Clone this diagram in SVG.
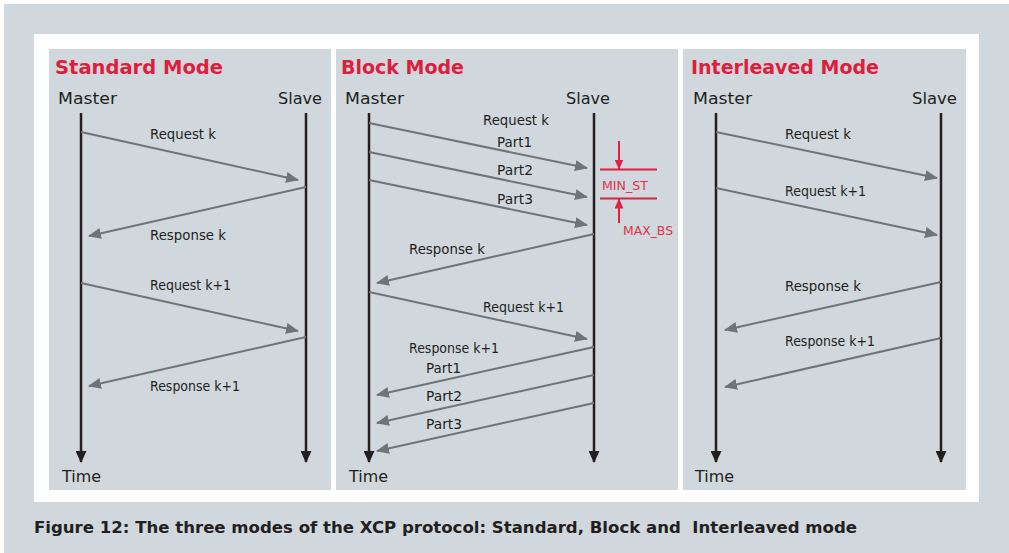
<svg xmlns="http://www.w3.org/2000/svg" width="1009" height="553" viewBox="0 0 1009 553">
<style>
.bg{fill:#d0d7dd}
.panel{fill:#d0d7dd}
.title{font-family:"DejaVu Sans","Noto Sans",sans-serif;font-weight:bold;font-size:19px;fill:#dc1f3c}
.head{font-family:"DejaVu Sans","Noto Sans",sans-serif;font-size:16px;fill:#231f20}
.lbl{font-family:"DejaVu Sans","Noto Sans",sans-serif;font-size:13.5px;fill:#231f20}
.red{font-family:"DejaVu Sans","Noto Sans",sans-serif;font-size:12px;fill:#e0334d}
.cap{font-family:"DejaVu Sans","Noto Sans",sans-serif;font-weight:bold;font-size:15px;fill:#231f20;white-space:pre}
.life{stroke:#231f20;stroke-width:2.5;fill:none}
.msg{stroke:#707476;stroke-width:2;fill:none}
.rl{stroke:#e0213f;stroke-width:2;fill:none}
</style>
<defs>
<marker id="ag" markerUnits="userSpaceOnUse" markerWidth="13" markerHeight="11" refX="12" refY="5.5" orient="auto"><path d="M0,0 L13,5.5 L0,11 Z" fill="#707476"/></marker>
<marker id="ab" markerUnits="userSpaceOnUse" markerWidth="12" markerHeight="11" refX="11" refY="5.5" orient="auto"><path d="M0,0 L12,5.5 L0,11 Z" fill="#231f20"/></marker>
<marker id="ar" markerUnits="userSpaceOnUse" markerWidth="10" markerHeight="9" refX="9.5" refY="4.5" orient="auto"><path d="M0,0 L10,4.5 L0,9 Z" fill="#e0213f"/></marker>
</defs>
<rect x="4" y="4" width="1005" height="549" class="bg"/>
<rect x="34" y="34" width="945" height="468" fill="#ffffff"/>
<text class="cap" x="34" y="533" xml:space="preserve" textLength="823" lengthAdjust="spacingAndGlyphs">Figure 12: The three modes of the XCP protocol: Standard, Block and  Interleaved mode</text>

<g id="standard">
<rect x="49" y="49" width="282" height="441" class="panel"/>
<text class="title" x="55" y="74" textLength="168" lengthAdjust="spacingAndGlyphs">Standard Mode</text>
<text class="head" x="58" y="104" textLength="59" lengthAdjust="spacingAndGlyphs">Master</text>
<text class="head" x="278" y="104" textLength="44" lengthAdjust="spacingAndGlyphs">Slave</text>
<text class="head" x="62" y="482" textLength="39" lengthAdjust="spacingAndGlyphs">Time</text>
<text class="lbl" x="150" y="139" textLength="66" lengthAdjust="spacingAndGlyphs">Request k</text>
<text class="lbl" x="150" y="240" textLength="76" lengthAdjust="spacingAndGlyphs">Response k</text>
<text class="lbl" x="150" y="290" textLength="81" lengthAdjust="spacingAndGlyphs">Request k+1</text>
<text class="lbl" x="150" y="391" textLength="90" lengthAdjust="spacingAndGlyphs">Response k+1</text>
</g>

<g id="block">
<rect x="336" y="49" width="342" height="441" class="panel"/>
<text class="title" x="341" y="74" textLength="123" lengthAdjust="spacingAndGlyphs">Block Mode</text>
<text class="head" x="345" y="104" textLength="59" lengthAdjust="spacingAndGlyphs">Master</text>
<text class="head" x="566" y="104" textLength="44" lengthAdjust="spacingAndGlyphs">Slave</text>
<text class="head" x="349" y="482" textLength="39" lengthAdjust="spacingAndGlyphs">Time</text>
<text class="lbl" x="483" y="125" textLength="66" lengthAdjust="spacingAndGlyphs">Request k</text>
<text class="lbl" x="497" y="147" textLength="35" lengthAdjust="spacingAndGlyphs">Part1</text>
<text class="lbl" x="497" y="175" textLength="36" lengthAdjust="spacingAndGlyphs">Part2</text>
<text class="lbl" x="497" y="204" textLength="36" lengthAdjust="spacingAndGlyphs">Part3</text>
<text class="lbl" x="409" y="254" textLength="76" lengthAdjust="spacingAndGlyphs">Response k</text>
<text class="lbl" x="483" y="312" textLength="81" lengthAdjust="spacingAndGlyphs">Request k+1</text>
<text class="lbl" x="409" y="353" textLength="90" lengthAdjust="spacingAndGlyphs">Response k+1</text>
<text class="lbl" x="426" y="373" textLength="35" lengthAdjust="spacingAndGlyphs">Part1</text>
<text class="lbl" x="426" y="401" textLength="36" lengthAdjust="spacingAndGlyphs">Part2</text>
<text class="lbl" x="426" y="429" textLength="36" lengthAdjust="spacingAndGlyphs">Part3</text>
<text class="red" x="602" y="190" textLength="46" lengthAdjust="spacingAndGlyphs">MIN_ST</text>
<text class="red" x="623" y="235" textLength="50" lengthAdjust="spacingAndGlyphs">MAX_BS</text>
</g>

<g id="interleaved">
<rect x="683" y="49" width="283" height="441" class="panel"/>
<text class="title" x="691" y="74" textLength="188" lengthAdjust="spacingAndGlyphs">Interleaved Mode</text>
<text class="head" x="693" y="104" textLength="59" lengthAdjust="spacingAndGlyphs">Master</text>
<text class="head" x="912" y="104" textLength="45" lengthAdjust="spacingAndGlyphs">Slave</text>
<text class="head" x="695" y="482" textLength="39" lengthAdjust="spacingAndGlyphs">Time</text>
<text class="lbl" x="785" y="139" textLength="66" lengthAdjust="spacingAndGlyphs">Request k</text>
<text class="lbl" x="785" y="196" textLength="81" lengthAdjust="spacingAndGlyphs">Request k+1</text>
<text class="lbl" x="785" y="291" textLength="76" lengthAdjust="spacingAndGlyphs">Response k</text>
<text class="lbl" x="785" y="346" textLength="90" lengthAdjust="spacingAndGlyphs">Response k+1</text>
</g>

<g id="connectors">
<line class="life" x1="81" y1="113" x2="81" y2="462" marker-end="url(#ab)"/>
<line class="life" x1="306" y1="113" x2="306" y2="462" marker-end="url(#ab)"/>
<line class="life" x1="369" y1="113" x2="369" y2="462" marker-end="url(#ab)"/>
<line class="life" x1="594" y1="113" x2="594" y2="462" marker-end="url(#ab)"/>
<line class="life" x1="716" y1="113" x2="716" y2="462" marker-end="url(#ab)"/>
<line class="life" x1="941" y1="113" x2="941" y2="462" marker-end="url(#ab)"/>
<line class="msg" x1="81" y1="132" x2="298" y2="180" marker-end="url(#ag)"/>
<line class="msg" x1="306" y1="187" x2="89" y2="236" marker-end="url(#ag)"/>
<line class="msg" x1="81" y1="283" x2="298" y2="331" marker-end="url(#ag)"/>
<line class="msg" x1="306" y1="337" x2="89" y2="386" marker-end="url(#ag)"/>
<line class="msg" x1="369" y1="123" x2="587" y2="168" marker-end="url(#ag)"/>
<line class="msg" x1="369" y1="152" x2="587" y2="197" marker-end="url(#ag)"/>
<line class="msg" x1="369" y1="180" x2="587" y2="225" marker-end="url(#ag)"/>
<line class="msg" x1="594" y1="234" x2="377" y2="283" marker-end="url(#ag)"/>
<line class="msg" x1="369" y1="292" x2="587" y2="339" marker-end="url(#ag)"/>
<line class="msg" x1="594" y1="347" x2="377" y2="395" marker-end="url(#ag)"/>
<line class="msg" x1="594" y1="375" x2="377" y2="423" marker-end="url(#ag)"/>
<line class="msg" x1="594" y1="403" x2="377" y2="451" marker-end="url(#ag)"/>
<line class="msg" x1="716" y1="132" x2="937" y2="178" marker-end="url(#ag)"/>
<line class="msg" x1="716" y1="188" x2="937" y2="235" marker-end="url(#ag)"/>
<line class="msg" x1="941" y1="282" x2="725" y2="330" marker-end="url(#ag)"/>
<line class="msg" x1="941" y1="338" x2="725" y2="387" marker-end="url(#ag)"/>
<line class="rl" x1="600" y1="169.5" x2="657" y2="169.5"/>
<line class="rl" x1="600" y1="198.5" x2="657" y2="198.5"/>
<line class="rl" x1="619" y1="141" x2="619" y2="169" marker-end="url(#ar)"/>
<line class="rl" x1="619" y1="223" x2="619" y2="199" marker-end="url(#ar)"/>
</g>
</svg>
